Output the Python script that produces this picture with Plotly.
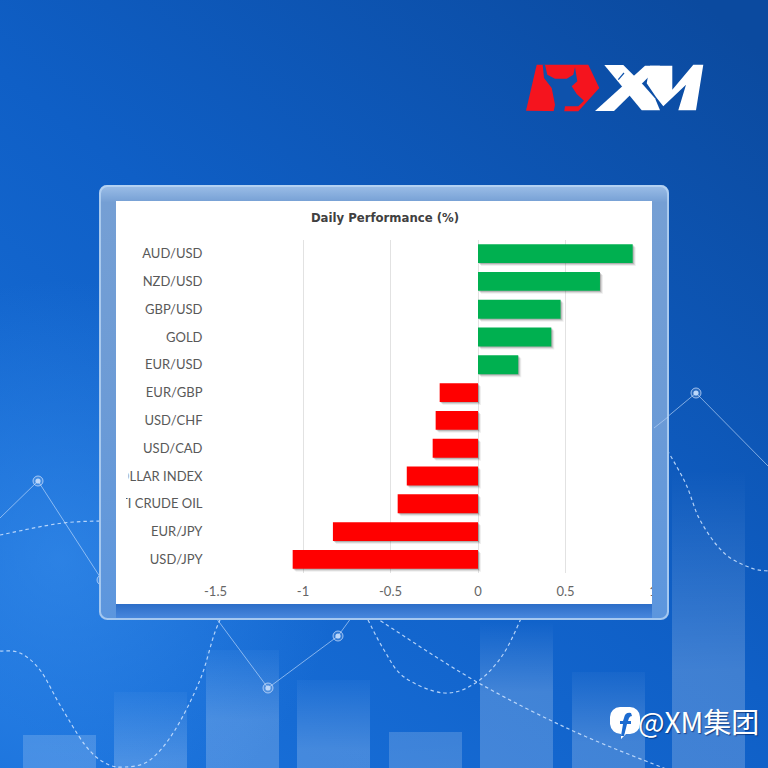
import base64
import plotly.graph_objects as go

# ---------- data ----------
categories = ["AUD/USD", "NZD/USD", "GBP/USD", "GOLD", "EUR/USD", "EUR/GBP", "USD/CHF",
              "USD/CAD", "US DOLLAR INDEX", "WTI CRUDE OIL", "EUR/JPY", "USD/JPY"]
tick_labels = ["AUD/USD", "NZD/USD", "GBP/USD", "GOLD", "EUR/USD", "EUR/GBP", "USD/CHF",
               "USD/CAD", "DOLLAR INDEX", "WTI CRUDE OIL", "EUR/JPY", "USD/JPY"]
values = [0.884, 0.697, 0.472, 0.419, 0.23, -0.219, -0.242, -0.259, -0.407, -0.459, -0.829, -1.059]
x_ticks = [-1.5, -1, -0.5, 0, 0.5, 1]
x_tick_labels = ["-1.5", "-1", "-0.5", "0", "0.5", "1"]
title_text = "Daily Performance (%)"
brand_text = "@XM集团"

GREEN, RED = "#00B050", "#FF0000"
colors = [GREEN if v >= 0 else RED for v in values]
W = 768


def smooth(pts):
    d = f"M{pts[0][0]},{pts[0][1]}"
    for i in range(len(pts) - 1):
        p0 = pts[max(i - 1, 0)]; p1 = pts[i]; p2 = pts[i + 1]; p3 = pts[min(i + 2, len(pts) - 1)]
        c1 = (p1[0] + (p2[0] - p0[0]) / 6, p1[1] + (p2[1] - p0[1]) / 6)
        c2 = (p2[0] - (p3[0] - p1[0]) / 6, p2[1] - (p3[1] - p1[1]) / 6)
        d += f" C{c1[0]:.1f},{c1[1]:.1f} {c2[0]:.1f},{c2[1]:.1f} {p2[0]},{p2[1]}"
    return d


def uri(svg):
    return "data:image/svg+xml;base64," + base64.b64encode(svg.encode()).decode()


# ---------- decorative backdrop ----------
deco_bars = [(23, 735), (114, 692), (206, 650), (297, 680), (389, 732), (480, 622), (572, 672), (672, 470)]
bars_svg = ""
for x, top in deco_bars:
    fid = f"b{x}"
    span = 70 if x != 672 else 200
    start = 0.17 if top in (735, 732) else (0.0 if x in (480, 672) else 0.03)
    bars_svg += (f'<linearGradient id="{fid}" gradientUnits="userSpaceOnUse" x1="0" y1="{top}" x2="0" y2="{top+span}">'
                 f'<stop offset="0" stop-color="#fff" stop-opacity="{start}"/>'
                 f'<stop offset="1" stop-color="#fff" stop-opacity="0.2"/></linearGradient>'
                 f'<rect x="{x}" y="{top}" width="73" height="{768-top}" fill="url(#{fid})"/>')

solid_line = [(0, 518), (38, 481), (102, 580), (135, 555), (205, 603), (268, 688), (338, 636), (362, 603), (654, 428), (696, 393), (768, 466)]
curves = [
    [(0, 535), (63, 523), (115, 521), (150, 521)],
    [(0, 651), (20, 653), (40, 670), (60, 705), (85, 745), (105, 763), (125, 767), (150, 760), (175, 730), (200, 680), (215, 632), (228, 603)],
    [(654, 428), (684, 480), (700, 520), (724, 553), (751, 568), (768, 571)],
    [(360, 605), (384, 623), (477, 682), (571, 730), (661, 767), (665, 768)],
    [(368, 620), (384, 650), (404, 677), (444, 693), (477, 682), (504, 653), (526, 607)],
]
curve_svg = "".join(f'<path d="{smooth(c)}" fill="none" stroke="#cfe4ff" stroke-opacity="0.85" stroke-width="1.2" stroke-dasharray="3.5 3"/>' for c in curves)
line_svg = '<polyline points="' + " ".join(f"{x},{y}" for x, y in solid_line) + '" fill="none" stroke="#cfe4ff" stroke-opacity="0.6" stroke-width="1"/>'
nodes = [(38, 481), (102, 580), (268, 688), (338, 636), (696, 393)]
node_svg = "".join(f'<circle cx="{x}" cy="{y}" r="5" fill="#fff" fill-opacity="0.12" stroke="#d5e6ff" stroke-opacity="0.7"/>'
                   f'<circle cx="{x}" cy="{y}" r="2.6" fill="#bcd7fa"/>' for x, y in nodes)

# logo outlines, measured in 3x crop coordinates
logo_a = lambda pts: " ".join(f"{520+x/3:.1f},{58+y/3:.1f}" for x, y in pts)
logo_b = lambda pts: " ".join(f"{510+x/3:.1f},{50+y/3:.1f}" for x, y in pts)
red_shape = [(50, 20), (205, 20), (238, 90), (175, 160), (135, 160), (18, 158)]
bull_cut = [(68, 20), (75, 20), (82, 50), (105, 62), (140, 62), (160, 50), (165, 28), (172, 70), (155, 85), (170, 108),
            (192, 128), (175, 145), (135, 145), (132, 165), (100, 165), (105, 140), (95, 90), (72, 60)]
x_a = [(283, 45), (340, 45), (400, 105), (435, 145), (450, 181), (395, 181)]
x_b = [(255, 183), (312, 183), (450, 47), (405, 47)]
m_s = [(420, 47), (487, 47), (487, 119), (550, 44), (580, 44), (558, 181), (505, 181), (528, 104), (460, 169), (438, 141), (410, 100)]

back_svg = f'''<svg xmlns="http://www.w3.org/2000/svg" width="768" height="768" viewBox="0 0 768 768">
<defs><linearGradient id="bg" gradientUnits="userSpaceOnUse" x1="700" y1="0" x2="70" y2="768">
<stop offset="0" stop-color="#0b4a9f"/><stop offset="0.5" stop-color="#0f5fc6"/><stop offset="1" stop-color="#1a72dc"/></linearGradient>
<radialGradient id="glow" gradientUnits="userSpaceOnUse" cx="60" cy="560" r="280">
<stop offset="0" stop-color="#3a90ee" stop-opacity="0.6"/><stop offset="1" stop-color="#3a90ee" stop-opacity="0"/></radialGradient>
</defs>
<rect width="768" height="768" fill="url(#bg)"/><rect width="768" height="768" fill="url(#glow)"/>
{bars_svg}{line_svg}{curve_svg}{node_svg}
<polygon points="{logo_a(red_shape)}" fill="#f5141e"/><polygon points="{logo_a(bull_cut)}" fill="#0e52ac"/>
<polygon points="{logo_b(x_a)}" fill="#fff"/><polygon points="{logo_b(x_b)}" fill="#fff"/><polygon points="{logo_b(m_s)}" fill="#fff"/>
<line x1="{510+325/3:.1f}" y1="{50+89/3:.1f}" x2="{510+342/3:.1f}" y2="{50+69/3:.1f}" stroke="#0e52ac" stroke-width="1.2"/>
<path d="M620,707 h10 a10,10 0 0 1 10,10 v7 a10,10 0 0 1 -10,10 h-4 l-5,5 v-5 a11,11 0 0 1 -11,-10 v-7 a10,10 0 0 1 10,-10 z" fill="#fff"/>
<path d="M631,713 q-6,-1 -7,5 l-1,3 h-3 v3 h3 l-2,12 h3 l3,-12 h4 v-3 h-3 l1,-3 q1,-2 3,-2 z" fill="#1c6bd0"/>
<rect x="116" y="201" width="536" height="403" fill="#fff"/>
</svg>'''

front_svg = f'''<svg xmlns="http://www.w3.org/2000/svg" width="768" height="768" viewBox="0 0 768 768">
<defs><linearGradient id="fr" gradientUnits="userSpaceOnUse" x1="0" y1="185" x2="0" y2="620">
<stop offset="0" stop-color="#9dbfe8"/><stop offset="0.04" stop-color="#759fd4"/><stop offset="0.5" stop-color="#6c9bd6"/><stop offset="1" stop-color="#5c96de"/></linearGradient>
<linearGradient id="bot" gradientUnits="userSpaceOnUse" x1="0" y1="604" x2="0" y2="620">
<stop offset="0" stop-color="#2c6dc8"/><stop offset="0.85" stop-color="#4686dc"/><stop offset="1" stop-color="#8ab8ee"/></linearGradient></defs>
<path fill-rule="evenodd" fill="url(#fr)" d="M107,185 H661 a8,8 0 0 1 8,8 V612 a8,8 0 0 1 -8,8 H107 a8,8 0 0 1 -8,-8 V193 a8,8 0 0 1 8,-8 z M116,201 V604 H652 V201 z"/>
<rect x="116" y="604" width="536" height="15" fill="url(#bot)"/>
<rect x="100" y="186" width="568" height="433" rx="7.5" fill="none" stroke="#bcd8f6" stroke-opacity="0.75" stroke-width="2"/>
<line x1="654" y1="428" x2="668" y2="417" stroke="#cfe4ff" stroke-opacity="0.5"/>
<rect x="116" y="201" width="10" height="403" fill="#fff"/>
<rect x="116" y="463" width="12.5" height="26" fill="#fff"/>
</svg>'''

# ---------- figure ----------
fig = go.Figure()
for dx, dy, alpha in [(3, 3, 0.07), (2, 2, 0.13), (1, 1, 0.2)]:
    fig.add_bar(y=categories, x=values, base=[dx / 175] * len(values), orientation="h",
                offset=-0.34 + dy / 27.8, width=0.68,
                marker=dict(color=f"rgba(30,30,30,{alpha})", line_width=0),
                hoverinfo="skip", showlegend=False)
fig.add_bar(y=categories, x=values, orientation="h", offset=-0.34, width=0.68,
            marker=dict(color=colors, line_width=0), showlegend=False)

fig.update_layout(
    width=W, height=W, autosize=False, barmode="overlay",
    margin=dict(l=0, r=0, t=0, b=0),
    paper_bgcolor="rgba(0,0,0,0)", plot_bgcolor="rgba(0,0,0,0)",
    title=dict(text=title_text, x=385 / W, y=1 - 217.5 / W, xanchor="center", yanchor="middle",
               font=dict(family="DejaVu Sans", size=11.7, color="#404040", weight="bold")),
    xaxis=dict(domain=[215.5 / W, 653 / W], range=[-1.5, 1.0], tickvals=x_ticks, ticktext=x_tick_labels,
               showgrid=True, gridcolor="#e2e2e2", gridwidth=1, zeroline=False, showline=False, ticks="",
               ticklabelstandoff=9, tickfont=dict(family="Lato", size=13, color="#666666"), automargin=False),
    yaxis=dict(domain=[1 - 573.3 / W, 1 - 239.7 / W], type="category", categoryorder="array", categoryarray=categories,
               tickvals=categories, ticktext=tick_labels,
               autorange="reversed", showgrid=False, zeroline=False, showline=False, ticks="",
               ticklabelstandoff=12, tickfont=dict(family="Lato", size=13, color="#595959"), automargin=False),
    images=[
        dict(source=uri(back_svg), xref="paper", yref="paper", x=0, y=1, sizex=1, sizey=1,
             sizing="stretch", xanchor="left", yanchor="top", layer="below"),
        dict(source=uri(front_svg), xref="paper", yref="paper", x=0, y=1, sizex=1, sizey=1,
             sizing="stretch", xanchor="left", yanchor="top", layer="above"),
    ],
    annotations=[dict(text=brand_text, xref="paper", yref="paper", x=636 / W, y=1 - 721 / W, xanchor="left",
                      yanchor="middle", showarrow=False,
                      font=dict(family="Noto Sans CJK SC", size=28, color="#ffffff",
                                shadow="1px 1px 1px rgba(0,30,90,0.6)"))],
)
fig.write_html("out.html", config=dict(displayModeBar=False),
               post_script="document.body.style.margin='0';document.body.style.overflow='hidden';")
